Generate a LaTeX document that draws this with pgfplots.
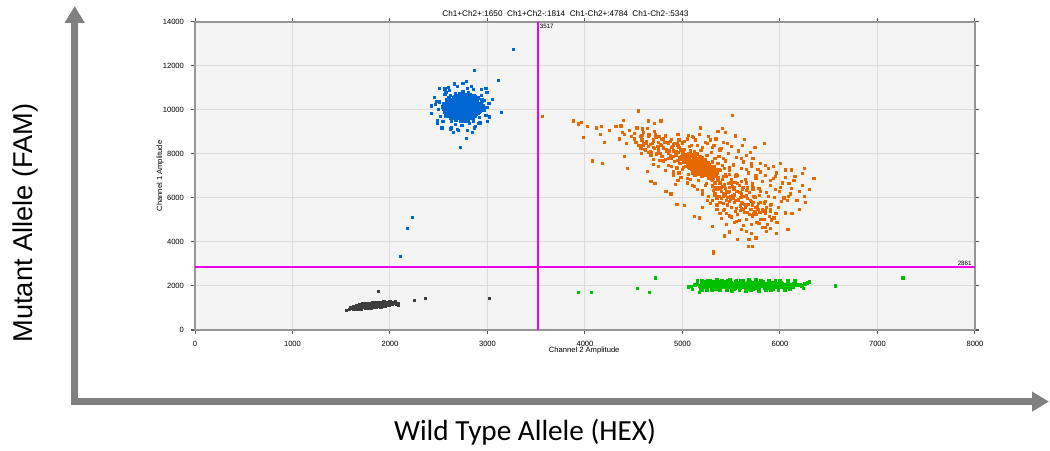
\documentclass[border=0pt]{standalone}
\usepackage{pgfplots}
\pgfplotsset{compat=1.18}
\usepackage{fontspec}
\setmainfont{Liberation Sans}
\newfontfamily\carlito{Carlito}
\usetikzlibrary{arrows.meta}
\definecolor{bgc}{RGB}{244,244,244}
\definecolor{gridc}{RGB}{220,220,220}
\definecolor{axc}{RGB}{150,150,150}
\definecolor{tickc}{RGB}{90,90,90}
\definecolor{thr}{RGB}{238,0,238}
\definecolor{cblue}{RGB}{0,102,210}
\definecolor{corange}{RGB}{232,104,0}
\definecolor{cgreen}{RGB}{0,192,0}
\definecolor{cblack}{RGB}{62,62,62}
\definecolor{arrowc}{RGB}{128,128,128}
\pgfplotsset{dots/.style={only marks, mark=square*, mark size=0.55pt, color=#1, mark options={draw=#1, fill=#1, line width=0.1pt}},
  core/.style={only marks, mark=square*, mark size=0.8pt, color=#1, mark options={draw=#1, fill=#1, line width=0.1pt}}}
\begin{document}
\begin{tikzpicture}
\path[use as bounding box] (0,0) rectangle (525pt,225pt);
\draw[arrowc, line width=3.4pt, line join=miter,
  {Triangle[width=9.5pt,length=8.5pt]}-{Triangle[width=9.5pt,length=8.5pt]}]
  (37.35pt,222pt) -- (37.35pt,24.2pt) -- (524.5pt,24.2pt);
\node[rotate=90, anchor=base, font=\fontsize{13.6}{16}\selectfont, inner sep=0pt] at (16.5pt,113.5pt) {Mutant Allele (FAM)};
\node[anchor=base, font=\carlito\fontsize{14.6}{17}\selectfont, inner sep=0pt] at (262.5pt,5pt) {Wild Type Allele (HEX)};
\begin{axis}[
  at={(97.5pt,60pt)}, anchor=south west,
  scale only axis, width=390pt, height=154pt,
  xmin=0, xmax=8000, ymin=0, ymax=14000,
  xtick={0,1000,...,8000}, ytick={0,2000,...,14000},
  scaled ticks=false,
  /pgf/number format/1000 sep={},
  /pgf/number format/assume math mode=true,
  tick label style={font=\fontsize{3.8}{4.5}\selectfont},
  xticklabel pos=lower, yticklabel pos=left,
  xtick pos=both, ytick pos=both,
  grid=major, major grid style={color=gridc, line width=0.5pt},
  axis background/.style={fill=bgc},
  axis line style={color=axc, line width=0.6pt},
  tick style={color=tickc, line width=0.5pt},
  tick align=outside, major tick length=2pt,
  clip=false,
]
% Ch1-Ch2- (black) core
\addplot[core=cblack, mark size=0.72pt] coordinates {
(1800,1120)(1750,1100)(1850,1140)(1700,1080)(1900,1160)(1650,1060)(1950,1180)(1780,1150)
(1820,1090)(1720,1120)(1880,1120)(1680,1100)(1920,1200)(1760,1070)(1840,1170)(1740,1140)
(1860,1100)(1700,1050)(1980,1200)(1790,1130)(1810,1060)(1730,1090)(1870,1180)(1670,1030)
(1930,1140)(1770,1110)(1830,1130)(1710,1160)(1890,1090)(1750,1040)(1850,1200)(1690,1120)
(1960,1150)(1800,1180)(1780,1080)(1820,1150)(1740,1060)(1860,1150)(1660,1080)(1910,1120)
(1720,1050)(1880,1210)(1760,1160)(1840,1080)(1700,1110)(1940,1230)(1790,1050)(1810,1200)
(1730,1130)(1870,1130)(1680,1070)(1990,1250)(1770,1140)(1830,1100)(1710,1070)(1900,1190)
(1750,1120)(1850,1110)(1690,1040)(1920,1170)(1640,1020)(2010,1220)(1800,1090)(1780,1170)
(1820,1120)(1760,1100)(1840,1140)(1720,1100)(1880,1160)(1740,1110)(1860,1120)(1700,1090)
(1960,1210)(1790,1100)(1810,1140)(1730,1070)(1870,1100)(1650,1040)(1950,1120)(1770,1080)
(1830,1170)(1710,1130)(1890,1140)(1750,1080)(1850,1160)(1680,1120)(1930,1190)(1800,1150)
(2030,1230)(1620,1000)(1630,1050)(2040,1270)(1760,1190)(1870,1230)
(1700,990)(1750,1010)(1800,1030)(1850,1050)(1900,1080)(1950,1100)(1720,1180)(1780,1220)
(1840,1240)(1900,1250)(1960,1270)(1660,1130)(1670,990)(1990,1150)(2000,1290)(1600,1000)
(1640,960)(1690,1160)(1770,1000)(1930,1290)(1820,1230)(2020,1180)
};
\addplot[dots=cblack] coordinates {
(1549,909)(1877,1773)(2082,1227)(2246,1364)(2359,1455)(3015,1455)(2050,1300)(2080,1150)
(1700,950)(1620,955)(2060,1200)(1580,960)
};
% Ch1+Ch2- (blue) core
\addplot[core=cblue] coordinates {
(2730,10100)(2650,10250)(2810,9950)(2700,9800)(2760,10400)(2590,10050)(2870,10180)(2680,10520)
(2790,9700)(2720,10300)(2620,9880)(2840,10350)(2560,10200)(2900,9900)(2750,10000)(2690,10150)
(2780,10250)(2640,9650)(2820,10600)(2710,9950)(2600,10400)(2880,10050)(2740,9850)(2670,10350)
(2800,10120)(2580,9900)(2930,10250)(2700,10650)(2760,9600)(2630,10100)(2850,9800)(2720,10450)
(2690,9750)(2810,10300)(2550,10050)(2950,10100)(2730,10200)(2660,9950)(2770,10550)(2610,10300)
(2890,10400)(2700,9900)(2750,10150)(2640,10450)(2830,10000)(2590,9750)(2860,10650)(2680,10050)
(2790,9850)(2720,10750)(2620,10150)(2910,9950)(2740,10350)(2660,9850)(2800,10450)(2570,10300)
(2870,9750)(2710,10050)(2770,9950)(2650,10550)(2840,10200)(2600,9800)(2920,10300)(2690,10300)
(2750,10600)(2630,9950)(2820,9650)(2700,10400)(2780,10050)(2540,10150)(2960,10000)(2730,9850)
(2680,10200)(2800,10350)(2610,10000)(2860,10100)(2710,10550)(2750,9750)(2640,10250)(2830,10500)
(2580,10450)(2900,10150)(2720,9950)(2670,10100)(2790,10150)(2620,9650)(2850,10300)(2700,10200)
(2760,10300)(2650,9800)(2880,9850)(2740,10450)(2600,10550)(2810,9900)(2690,10000)(2770,10700)
(2560,9950)(2940,10450)(2730,10050)(2660,10400)(2820,10050)(2630,10350)(2870,10250)(2710,9700)
(2760,10100)(2680,10650)(2790,9550)(2610,10200)(2900,10550)(2720,10150)(2650,10000)(2830,10400)
(2590,10100)(2860,9950)(2700,10100)(2750,10250)(2640,10150)(2810,10200)(2570,9850)(2920,10050)
(2740,10000)(2690,9900)(2780,10400)(2620,10450)(2850,10150)(2710,10350)(2770,9800)(2660,10250)
(2840,9750)(2600,10350)(2890,10350)(2720,10600)(2680,9850)(2800,10250)(2550,10300)(2950,10200)
(2730,10350)(2670,9700)(2790,10000)(2630,10200)(2870,10050)(2700,10500)(2760,9900)(2650,10100)
(2820,10700)(2590,10250)(2910,10150)(2740,10150)(2690,10450)(2780,9650)(2610,9900)(2860,10450)
(2720,10000)(2750,10450)(2640,10050)(2830,9850)(2580,10050)(2900,10250)(2710,10200)(2670,10300)
(2800,9800)(2620,10050)(2850,10550)(2730,9750)(2760,10200)(2660,10150)(2810,10050)(2600,10150)
(2880,10150)(2700,10000)(2770,10050)(2680,10100)(2740,10250)(2720,10100)(2700,10150)(2750,10050)
(2710,10250)
(2840,10170)(2815,10380)(2760,10480)(2710,10450)(2665,10370)(2645,10200)(2640,9960)(2675,9790)
(2720,9680)(2770,9710)(2805,9810)(2832,9990)
(2880,10060)(2878,10330)(2830,10520)(2790,10610)(2720,10670)(2660,10590)(2630,10400)(2592,10180)
(2605,9940)(2618,9760)(2675,9560)(2730,9520)(2780,9510)(2845,9640)(2865,9860)
};
\addplot[dots=cblue] coordinates {
(2990,10120)(2965,10440)(2935,10690)(2855,10960)(2790,11010)(2690,11070)(2610,10900)(2560,10740)
(2500,10380)(2490,10050)(2515,9720)(2545,9480)(2625,9200)(2690,9140)(2790,9090)(2870,9260)
(2920,9430)(2980,9770)
(2930,10190)(2895,10470)(2870,10640)(2800,10810)(2745,10840)(2670,10760)(2615,10670)(2585,10430)
(2550,10230)(2560,9930)(2570,9720)(2625,9490)(2670,9360)(2735,9310)(2810,9390)(2855,9520)
(2910,9690)(2920,9970)
(3020,10300)(2935,10950)(2745,11240)(2560,10970)(2460,10260)(2480,9520)(2645,9010)(2840,8980)
(2995,9490)
(2480,9400)(2450,10600)(2500,11000)(2980,11000)(3000,9500)(2530,9200)(2620,9150)(2830,11100)
(2660,11200)(2420,9860)(2420,10200)(3010,10300)(3050,10500)(2570,10800)(2900,9400)(2780,11300)
(2990,10800)(2540,9500)(2700,9100)(2860,9200)(2470,10400)(3020,9700)(2600,11050)
(2718,8320)(2779,8730)(3138,9900)(3108,11360)(2862,11820)(3262,12770)
(2226,5140)(2174,4640)(2100,3360)
};
% Ch1+Ch2+ (orange) core
\addplot[core=corange] coordinates {
(5180,7450)(5120,7600)(5250,7300)(5060,7800)(5300,7100)(5150,7350)(5210,7650)(5090,7500)
(5270,7500)(5000,7900)(5340,7000)(5130,7750)(5230,7200)(5180,7700)(5110,7400)(5290,7300)
(5040,7650)(5200,7550)(5160,7200)(5260,7050)(5080,7950)(5320,7250)(5140,7550)(5220,7400)
(5020,7750)(5190,7850)(5280,6950)(5100,7300)(5240,7600)(5170,7100)(5060,8000)(5350,7150)
(5120,7450)(5210,7250)(5150,7800)(5300,6900)(5090,7650)(5250,7450)(5000,8050)(5190,7300)
(5130,7150)(5270,7200)(5050,7550)(5230,7750)(5160,7500)(5320,7050)(5080,7700)(5200,7000)
(5110,7850)(5280,7400)(4980,7800)(5240,7150)(5140,7650)(5170,7350)(5360,6900)(5030,7950)
(5210,7550)(5100,7600)(5260,7300)(5150,7250)(5190,7600)(5070,7400)(5300,7200)(5120,7950)
(5230,7050)(5180,7150)(5050,7800)(5340,7300)(5140,7400)(5220,7700)(5090,7350)(5270,6950)
(5160,7650)(5010,7650)(5250,7600)(5200,7250)(5110,7700)(5290,7100)(5130,7300)(5180,7500)
(5240,7450)(5060,7450)(5310,7400)(5170,7800)(5100,7150)(5220,7300)(5150,7600)(5280,7250)
(5040,7900)(5200,7400)
};
\addplot[dots=corange] coordinates {
(5300,6600)(5350,6400)(5420,6200)(5480,6500)(5520,6000)(5380,6700)(5450,5900)(5560,6300)
(5600,5800)(5330,6200)(5500,5600)(5650,5700)(5400,6000)(5580,6600)(5470,6250)(5620,6100)
(5360,6800)(5530,5800)(5700,5500)(5440,6450)(5590,5450)(5310,6350)(5660,6000)(5490,6100)
(5550,5550)(5410,6550)(5720,5800)(5380,5800)(5630,5350)(5460,5700)(5520,6400)(5680,5250)
(5350,6000)(5600,6200)(5430,5500)(5750,5600)(5500,6700)(5570,5950)(5330,6500)(5640,5600)
(5460,6050)(5710,5200)(5400,6300)(5530,6150)(5610,5750)(5370,6100)(5690,5900)(5480,5850)
(5560,5250)(5420,5750)(5740,5400)(5510,6550)(5590,5650)(5300,6800)(5650,6350)(5440,6150)
(5770,5500)(5540,5400)(5380,6450)(5620,5500)
(5800,5050)(5760,4900)(5650,5050)(5500,5150)(5700,4800)(5850,5300)(5900,5700)(5580,5000)
(5450,5300)(5820,5500)
(4400,8900)(4500,8700)(4600,8500)(4700,8600)(4800,8300)(4900,8150)(4450,9100)(4550,8400)
(4650,8800)(4750,8200)(4850,8500)(4950,8100)(4350,8700)(4600,9000)(4700,8300)(4800,8700)
(4900,7900)(4500,8950)(4650,8350)(4750,8550)(4850,8050)(4950,8400)(4420,8500)(4580,8650)
(4680,8100)(4780,8400)(4880,8300)(4980,8200)(4530,9200)(4630,8600)(4730,8750)(4830,8200)
(4930,7950)(4470,8800)(4570,8250)(4670,8450)(4770,8050)(4870,8600)(4970,7850)(4380,9000)
(4720,8900)(4820,8800)(4920,8500)(4620,8200)(4520,8550)(4960,8650)(4880,7800)(4780,7900)
(4680,7950)(4580,8850)
(3559,9730)(3877,9500)(3928,9410)(3880,9520)(3932,9370)(3962,9460)(3980,8750)(4024,9280)
(4075,7700)(4116,9200)(4167,9280)(4177,7590)(4154,8900)(4195,8530)(4246,9100)(4314,9250)
(4365,9290)(4392,9550)(4433,7370)(4400,7900)(4546,9970)(4645,9520)(4706,9400)(4775,9520)
(4638,7220)(4672,6770)(4713,6690)(4826,6320)(4884,6210)(4939,5710)(5014,5670)(5123,5190)
(5167,5110)(5304,4740)(5423,4290)(5509,9770)(5406,9170)(5440,8980)(5543,8840)(5635,8690)
(5833,8500)(6003,7590)(6055,7290)(6113,7290)(6225,7140)(6249,7350)(6345,6890)(6089,6660)
(6038,6020)(6072,5900)(6055,5340)(6079,4590)(5935,5110)(5860,4510)(5816,4660)(5679,4130)
(5713,3830)(5672,3830)(5560,4130)(5314,3560)(5474,4470)(5287,5760)(4928,6620)(4877,6200)
(4672,7970)(5313,3500)
(5700,7600)(5800,7200)(5900,6800)(5750,6900)(5650,7300)(5850,7500)(5950,7000)(5600,7800)
(5550,7100)(5480,7400)(5420,7800)(5380,8200)(5300,8300)(5250,8500)(5150,8400)(5050,8700)
(4950,8900)(5100,8800)(5450,7000)(5520,7500)(5650,6700)(5720,6500)(5800,6300)(5880,6100)
(5950,6400)(6000,6500)(5900,5500)(5850,5850)(5980,5600)(6100,6200)(4900,7200)(4850,7500)
(4800,7700)(5000,7300)(4950,6800)(5050,6900)(5100,6600)(5150,6400)(5200,6200)(5250,5900)
(5200,5600)(5350,5500)(5400,5100)(5450,4800)(5600,4600)(5700,4400)(5750,4200)(5650,4500)
(5530,4900)(5380,5300)
(4575,8050)(4590,8400)(4570,8800)(4585,9150)(4645,8090)(4630,8490)(4650,8890)(4635,9190)
(4700,7780)(4710,8280)(4695,8680)(4705,9030)(4765,7710)(4750,8060)(4770,8460)(4755,8810)
(4820,7750)(4830,8150)(4815,8550)(4825,8850)(4885,7440)(4875,7940)(4890,8340)(4880,8690)
(4940,7380)(4950,7730)(4935,8130)(4945,8480)(5005,7415)(4995,7815)(5010,8215)(5000,8515)
(5060,7100)(5070,7600)(5055,8000)(5065,8350)(5125,7040)(5115,7390)(5130,7790)(5120,8140)
(5180,7080)(5190,7480)(5175,7880)(5185,8180)(5245,6690)(5235,7190)(5250,7590)(5240,7940)
(5300,6550)(5310,6900)(5295,7300)(5305,7650)(5365,6500)(5355,6900)(5370,7300)(5360,7600)
(5420,6110)(5430,6610)(5415,7010)(5425,7360)(5485,5970)(5475,6320)(5490,6720)(5480,7070)
(5540,5920)(5550,6320)(5535,6720)(5545,7020)(5605,5530)(5595,6030)(5610,6430)(5600,6780)
(5660,5370)(5670,5720)(5655,6120)(5665,6470)(5725,5290)(5715,5690)(5730,6090)(5720,6390)
(5780,4870)(5790,5370)(5775,5770)(5785,6120)(5845,4690)(5835,5040)(5850,5440)(5840,5790)
(5900,4615)(5910,5015)(5895,5415)(5905,5715)(5960,4400)(5965,4900)(5955,5300)
(4610,8240)(4625,8600)(4600,8990)(4670,8130)(4685,8480)(4660,8880)(4730,8020)(4745,8370)
(4720,8770)(4790,7910)(4805,8260)(4780,8660)(4850,7800)(4865,8150)(4840,8550)(4910,7680)
(4925,8030)(4900,8430)(4970,7570)(4985,7920)(4960,8320)(5030,7460)(5045,7810)(5020,8210)
(5090,7350)(5105,7700)(5080,8100)(5150,7230)(5165,7580)(5140,7980)(5210,7090)(5225,7440)
(5200,7840)(5270,6890)(5285,7240)(5260,7640)(5330,6700)(5345,7050)(5320,7450)(5390,6510)
(5405,6860)(5380,7260)(5450,6310)(5465,6660)(5440,7060)(5510,6120)(5525,6470)(5500,6870)
(5570,5930)(5585,6280)(5560,6680)(5630,5730)(5645,6080)(5620,6480)(5690,5510)(5705,5860)
(5680,6260)(5750,5280)(5765,5630)(5740,6030)(5810,5050)(5825,5400)(5800,5800)(5870,4830)
(5885,5180)(5860,5580)
(5020,8600)(5060,8850)(5090,8400)(5130,8650)(5170,8900)(5200,8300)(5230,8550)(5260,8800)
(5290,8100)(5320,8400)(5340,8700)(5370,7900)(5390,8250)(5420,8550)(5440,7700)(5470,8050)
(5500,8350)(5520,7550)(5550,7850)(5570,8150)(5600,7350)(5620,7650)(5650,7950)(5670,7150)
(5700,7450)(5720,7800)(5750,7050)(5770,7300)(5800,7600)(5820,6750)(5850,7050)(5880,7350)
(5900,6600)(5930,6900)(5960,7150)(5990,6300)(6020,6700)(6050,6950)(6080,6100)(6110,6450)
(6140,6800)(6170,5900)(6200,6300)(6230,6600)(6260,5800)(5080,8150)(5150,8050)(5250,7950)
(5330,7800)(5410,7500)(5480,7250)(5560,7050)(5640,6850)(5710,6650)(5780,6450)(5860,6250)
(5940,6050)(6010,5850)(5110,8750)(5280,8650)(5460,8500)(5610,8400)(5690,8100)(5360,9050)
(5180,9200)(5740,8300)(5930,7450)(6150,7000)(6300,6400)(6200,5500)(6120,5300)(6250,6100)
(4750,7450)(4820,7250)(4900,7050)(4980,6950)(5050,6700)(5120,6550)(5200,6350)(5260,6100)
(5300,5900)(5350,5700)(5420,5450)(5480,5200)(5550,4950)(5620,4750)(4700,7550)(4960,7150)
(5080,6850)(5160,6800)(5230,6600)(5330,6150)
};
% Ch1-Ch2+ (green) core
\addplot[core=cgreen, mark size=0.72pt] coordinates {
(5200,2050)(5250,2000)(5300,2100)(5350,1980)(5400,2060)(5450,2120)(5500,2000)(5550,2080)
(5600,2030)(5650,2110)(5700,1990)(5750,2070)(5800,2020)(5850,2090)(5900,2000)(5950,2060)
(6000,2030)(6050,2080)(6100,2010)(6150,2050)(5220,1950)(5280,2150)(5330,2040)(5380,2180)
(5430,1950)(5480,2090)(5530,1930)(5580,2160)(5630,1980)(5680,2050)(5730,2150)(5780,1950)
(5830,2000)(5880,2130)(5930,1960)(5980,2100)(6030,1980)(6080,2120)(6130,1990)(6180,2080)
(5260,2080)(5310,1940)(5360,2110)(5410,2010)(5460,2200)(5510,2130)(5560,1960)(5610,2090)
(5660,1940)(5710,2120)(5760,2010)(5810,2160)(5860,1940)(5910,2080)(5960,2000)(6010,2150)
(6060,2030)(6110,2070)(5170,2000)(5240,2200)(5290,2010)(5340,1900)(5390,2090)(5440,2040)
(5490,2170)(5540,2010)(5590,1920)(5640,2070)(5690,2200)(5740,2040)(5790,2100)(5840,1930)
(5890,2040)(5940,2150)(5990,1950)(6040,2060)(6090,1960)(6140,2110)(5320,2180)(5370,2030)
(5420,2140)(5470,1990)(5520,2060)(5570,2120)(5620,2000)(5670,2160)(5720,1970)(5770,2090)
(5820,2040)(5870,2010)(5920,2100)(5970,2040)(6020,2090)(5350,2070)(5400,1960)(5450,2000)
(5500,2100)(5550,2040)(5600,2150)(5650,2010)(5700,2090)(5750,1930)(5800,2110)(5850,2050)
(5900,2150)(5950,1990)(5460,2050)(5510,1990)(5560,2060)(5610,2040)(5660,2100)(5710,2030)
(5760,2170)(5610,1990)(5530,2110)(5580,2010)(5480,2030)(5680,2020)(5580,2070)(5540,2180)
(5420,2080)(5380,2010)(5470,2140)(5620,2120)(5720,2060)(5660,2060)(5490,1950)(5590,2100)
(5640,2000)(5520,2020)(5440,1990)(5360,2150)(5300,1980)(5270,2100)(5230,2040)(6200,2060)
(6220,2000)(6250,2100)(5120,2050)(5150,2100)
(5150,2250)(5250,1820)(5350,2280)(5450,1830)(5550,2260)(5650,1810)(5750,2290)(5850,1840)
(5950,2240)(6050,1850)(6150,2230)(5200,2230)(5300,1850)(5400,2250)(5500,1800)(5600,2270)
(5700,1830)(5800,2250)(5900,1820)(6000,2260)(6100,1870)(5180,1880)(5280,2260)(5380,1820)
(5480,2280)(5580,1850)(5680,2290)(5780,1800)(5880,2260)(5980,1840)(6080,2240)(5420,2220)
(5520,1870)(5620,2230)(5720,1860)(5820,2210)(5920,1880)(5360,1880)(5460,2240)(5660,1860)
};
\addplot[dots=cgreen] coordinates {
(5061,1970)(5092,2000)(5170,1740)(4536,1910)(4654,1740)(4722,2380)(6278,2150)(6566,2015)
(7258,2380)(3928,1730)(4062,1730)(5100,1850)(5250,2270)(5200,1800)(5330,1850)(6240,1900)
(6300,2200)
};
% thresholds
\addplot[thr, line width=1pt, mark=none] coordinates {(3517,0)(3517,14000)};
\addplot[thr, line width=1pt, mark=none] coordinates {(0,2861)(8000,2861)};
\node[anchor=north west, inner sep=0pt, font=\fontsize{3.1}{3.5}\selectfont] at ([xshift=0.8pt,yshift=-0.9pt]axis cs:3517,14000) {3517};
\node[anchor=south east, inner sep=0pt, font=\fontsize{3.1}{3.5}\selectfont] at ([xshift=-1.5pt,yshift=0.7pt]axis cs:8000,2861) {2861};
\node[anchor=base, inner sep=0pt, font=\fontsize{4.1}{5}\selectfont] at ([yshift=2.5pt]rel axis cs:0.475,1) {Ch1+Ch2+:1650\ \ Ch1+Ch2-:1814\ \ Ch1-Ch2+:4784\ \ Ch1-Ch2-:5343};
\node[anchor=base, inner sep=0pt, font=\fontsize{3.8}{4.5}\selectfont] at ([yshift=-11pt]rel axis cs:0.499,0) {Channel 2 Amplitude};
\node[anchor=base, rotate=90, inner sep=0pt, font=\fontsize{3.8}{4.5}\selectfont] at ([xshift=-16.5pt]rel axis cs:0,0.5) {Channel 1 Amplitude};
\end{axis}
\end{tikzpicture}
\end{document}
